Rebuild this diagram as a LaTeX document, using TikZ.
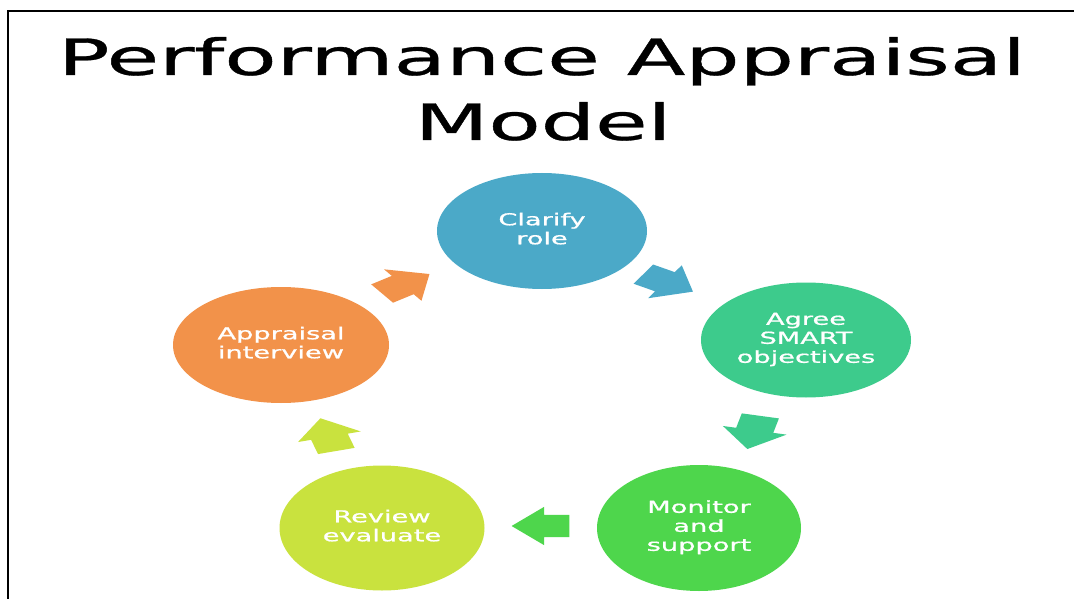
\documentclass[tikz,border=0pt]{standalone}
\usepackage{fontspec}
\usepackage{graphicx}
\setmainfont{DejaVu Sans}
\newfontfamily\heavytitle{DejaVu Sans}[FakeBold=0.6]
\newfontfamily\heavylabel{DejaVu Sans}[FakeBold=0.8]
\usetikzlibrary{shapes.geometric,shapes.arrows}
\definecolor{cblue}{HTML}{4BA9C8}
\definecolor{cteal}{HTML}{3DCB8C}
\definecolor{cgreen}{HTML}{4ED64C}
\definecolor{cyell}{HTML}{C9E23E}
\definecolor{corange}{HTML}{F2924A}
\newcommand\stretchtxt[1]{\scalebox{1.65}[1]{\begin{tabular}{@{}c@{}}#1\end{tabular}}}
\begin{document}
\begin{tikzpicture}[x=1pt,y=-1pt,
  bubble/.style={ellipse, inner sep=0pt, text=white, font=\heavylabel\fontsize{16.5}{19}\selectfont},
  flowarrow/.style={single arrow, inner xsep=0pt, inner ysep=11pt, minimum height=34pt, single arrow head extend=8pt, draw=none, transform shape},
  titletext/.style={anchor=base, font=\heavytitle\fontsize{50}{60}\selectfont}]
\useasboundingbox (0,0) rectangle (1074,599);
\fill[white] (0,0) rectangle (1074,599);
\coordinate (tl) at (8,11);
\coordinate (tr) at (1074,11);
\coordinate (bl) at (8,599);
\draw[line width=2.5pt] (tr) -- (tl) -- (bl);
\node[titletext] (t1) at (542,75) {\scalebox{1.71}[1]{Performance Appraisal}};
\node[titletext] (t2) at (543,140) {\scalebox{1.71}[1]{Model}};
\node[bubble, fill=cblue, minimum width=210pt, minimum height=116pt] (clarify) at (542,231) {\stretchtxt{Clarify\\role}};
\node[bubble, fill=cteal, minimum width=210pt, minimum height=115pt] (agree) at (806,340) {\stretchtxt{Agree\\SMART\\objectives}};
\node[bubble, fill=cgreen, minimum width=204pt, minimum height=126pt] (monitor) at (699,528) {\stretchtxt{Monitor\\and\\support}};
\node[bubble, fill=cyell, minimum width=205pt, minimum height=125pt] (review) at (382,528) {\stretchtxt{Review\\evaluate}};
\node[bubble, fill=corange, minimum width=216pt, minimum height=116pt] (appraisal) at (281,345) {\stretchtxt{Appraisal\\interview}};
\begin{scope}[xscale=1.7]
\node[flowarrow, fill=corange, rotate=35] (a1) at (398/1.7,287) {};
\node[flowarrow, fill=cblue, rotate=-31] (a2) at (660/1.7,280) {};
\node[flowarrow, fill=cteal, rotate=-103] (a3) at (756/1.7,427) {};
\node[flowarrow, fill=cgreen, rotate=180] (a4) at (550/1.7,526) {};
\node[flowarrow, fill=cyell, rotate=106] (a5) at (331/1.7,440) {};
\end{scope}
\end{tikzpicture}
\end{document}
